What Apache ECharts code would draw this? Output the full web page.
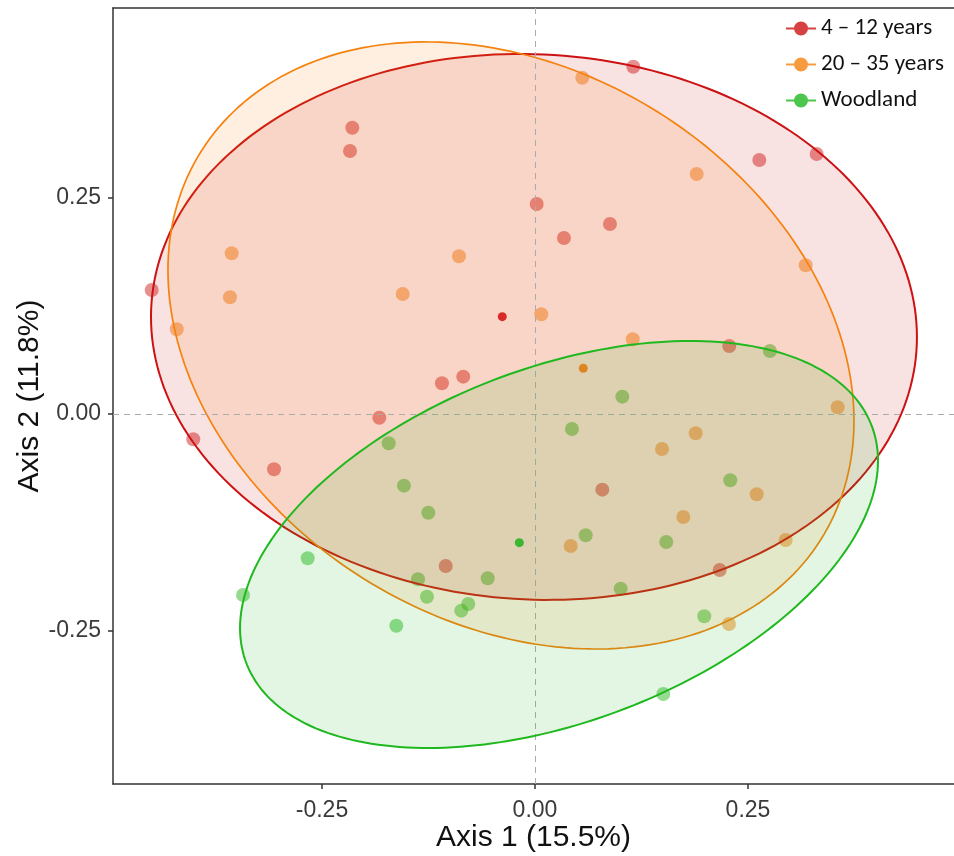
<!DOCTYPE html>
<html><head><meta charset="utf-8">
<script src="https://cdn.jsdelivr.net/npm/echarts@6/dist/echarts.min.js"></script>
<style>html,body{margin:0;padding:0;background:#fff}#c{width:954px;height:856px}</style>
</head><body><div id="c"></div>
<script>
// ---- data ----
const groupNames = ['4 – 12 years', '20 – 35 years', 'Woodland'];

const youngX = [-0.2144,-0.2171,-0.4499,-0.1827,-0.4011,-0.3063,0.1154,0.3306,0.2633,0.0020,0.0880,0.0340,0.2280,-0.0842,-0.1092,-0.1048,0.0790,0.2168];
const youngY = [0.3306,0.3037,0.1432,-0.0043,-0.0292,-0.0639,0.4010,0.3002,0.2933,0.2425,0.2194,0.2032,0.0785,0.0431,0.0354,-0.1755,-0.0874,-0.1801];

const oldX = [-0.3560,-0.3580,-0.1553,-0.4205,0.0555,0.1898,-0.0892,0.3177,0.0074,0.1147,0.3553,0.1886,0.1491,0.2602,0.1741,0.0419,0.2942,0.2277];
const oldY = [0.1856,0.1348,0.1386,0.0978,0.3883,0.2771,0.1821,0.1717,0.1151,0.0863,0.0077,-0.0223,-0.0404,-0.0927,-0.1189,-0.1524,-0.1455,-0.2425];

const woodX = [-0.1717,0.2758,-0.1538,-0.1252,-0.2668,-0.1373,-0.0555,-0.1268,-0.0783,-0.0865,-0.3427,-0.1628,0.1025,0.0434,0.2292,0.0595,0.1541,0.1006,0.1987,0.1506];
const woodY = [-0.0338,0.0727,-0.0828,-0.1140,-0.1666,-0.1909,-0.1897,-0.2110,-0.2194,-0.2271,-0.2090,-0.2445,0.0200,-0.0173,-0.0766,-0.1401,-0.1478,-0.2017,-0.2336,-0.3233];

// group centroids
const centroidX = [-0.0384, 0.0567, -0.0184];
const centroidY = [0.1124, 0.0528, -0.1486];

// ellipse parameters per group: centre, half-extent in x / y, correlation
const ellipseCX = [-0.0012, -0.0282, 0.0282];
const ellipseCY = [0.1005, 0.0791, -0.1507];
const ellipseRX = [0.4495, 0.4026, 0.3744];
const ellipseRY = [0.3152, 0.3505, 0.2350];
const ellipseRho = [-0.037, -0.248, 0.411];

// axis ticks
const xTicks = [-0.25, 0, 0.25];
const yTicks = [-0.25, 0, 0.25];
const xTitle = 'Axis 1 (15.5%)';
const yTitle = 'Axis 2 (11.8%)';

// ---- styles ----
const lineColors = ['#CC1212', '#F5820F', '#1FB81F'];
const pointColors = ['rgba(204,22,22,0.6)', 'rgba(245,130,15,0.62)', 'rgba(40,184,31,0.62)'];
const fillColors = ['rgba(204,16,16,0.12)', 'rgba(245,130,15,0.13)', 'rgba(31,184,31,0.125)'];
const centroidColors = ['#D00000', '#E07000', '#12B012'];

const xs = [youngX, oldX, woodX];
const ys = [youngY, oldY, woodY];

const series = [];
for (let g = 0; g < 3; g++) {
  const pts = xs[g].map((v, i) => [v, ys[g][i]]);
  const s = {
    name: groupNames[g], type: 'scatter', data: pts, symbol: 'circle', symbolSize: 14, z: 2,
    itemStyle: { color: pointColors[g], borderWidth: 0 }, silent: true
  };
  if (g === 0) {
    s.markLine = {
      silent: true, symbol: ['none', 'none'], label: { show: false },
      lineStyle: { color: '#ababab', type: [6, 5], width: 1 },
      data: [{ xAxis: 0 }, { yAxis: 0 }]
    };
  }
  series.push(s);
}
for (let g = 0; g < 3; g++) {
  series.push({
    name: groupNames[g], type: 'custom', z: 3 + g, silent: true,
    data: [[ellipseCX[g], ellipseCY[g], ellipseRX[g], ellipseRY[g], ellipseRho[g]]],
    renderItem: function (params, api) {
      const cx = api.value(0), cy = api.value(1), rx = api.value(2), ry = api.value(3), rho = api.value(4);
      const s = Math.sqrt(1 - rho * rho);
      const points = [];
      for (let k = 0; k <= 240; k++) {
        const t = 2 * Math.PI * k / 240;
        points.push(api.coord([cx + rx * Math.cos(t), cy + ry * (rho * Math.cos(t) + s * Math.sin(t))]));
      }
      return { type: 'polygon', shape: { points: points },
        style: { fill: fillColors[g], stroke: lineColors[g], lineWidth: g === 1 ? 1.7 : 2 } };
    }
  });
}
for (let g = 0; g < 3; g++) {
  series.push({
    name: groupNames[g], type: 'scatter', z: 7, silent: true,
    data: [[centroidX[g], centroidY[g]]], symbol: 'circle', symbolSize: 9,
    itemStyle: { color: centroidColors[g] }
  });
}

const legendIcon = 'path://M0,6h30v2h-30z M15,0a7,7 0 1,1 -0.01,0z';

const X_MIN = -0.4953, X_MAX = 0.4918;
const lineStyleAx = { color: '#333', width: 1.5 };

const option = {
  animation: false,
  backgroundColor: '#fff',
  grid: { left: 113, top: 8, right: 0, bottom: 72, show: false, containLabel: false, outerBoundsMode: 'none' },
  xAxis: [{
    type: 'value', min: X_MIN, max: X_MAX, position: 'bottom', splitLine: { show: false },
    axisLine: { show: true, onZero: false, lineStyle: lineStyleAx },
    axisTick: { show: true, length: 5, lineStyle: lineStyleAx, customValues: xTicks },
    axisLabel: { customValues: xTicks, formatter: v => v.toFixed(2), fontFamily: 'Liberation Sans', fontSize: 23, color: '#3a3a3a', margin: 15 },
    name: xTitle, nameLocation: 'middle', nameGap: 39, nameMoveOverlap: false,
    nameTextStyle: { fontFamily: 'Liberation Sans', fontSize: 30, color: '#111' }
  }, {
    type: 'value', min: X_MIN, max: X_MAX, position: 'top', splitLine: { show: false },
    axisLine: { show: true, onZero: false, lineStyle: lineStyleAx },
    axisTick: { show: false }, axisLabel: { show: false }
  }],
  yAxis: {
    type: 'value', min: -0.4273, max: 0.4688, splitLine: { show: false },
    axisLine: { show: true, onZero: false, lineStyle: lineStyleAx },
    axisTick: { show: true, length: 5, lineStyle: lineStyleAx, customValues: yTicks },
    axisLabel: { customValues: yTicks, formatter: v => v.toFixed(2), fontFamily: 'Liberation Sans', fontSize: 23, color: '#3a3a3a', margin: 12 },
    name: yTitle, nameLocation: 'middle', nameGap: 68, nameMoveOverlap: false,
    nameTextStyle: { fontFamily: 'Liberation Sans', fontSize: 30, color: '#111' }
  },
  legend: {
    orient: 'vertical', left: 781, top: 12, itemWidth: 30, itemHeight: 14, itemGap: 13,
    textStyle: { fontFamily: 'Carlito, Lato, sans-serif', fontSize: 23, color: '#111' },
    selectedMode: false,
    data: groupNames.map((n, g) => ({ name: n, icon: legendIcon, itemStyle: { color: lineColors[g] } }))
  },
  series: series
};

const chart = echarts.init(document.getElementById('c'), null, { renderer: 'canvas' });
chart.setOption(option);
</script>
</body></html>
